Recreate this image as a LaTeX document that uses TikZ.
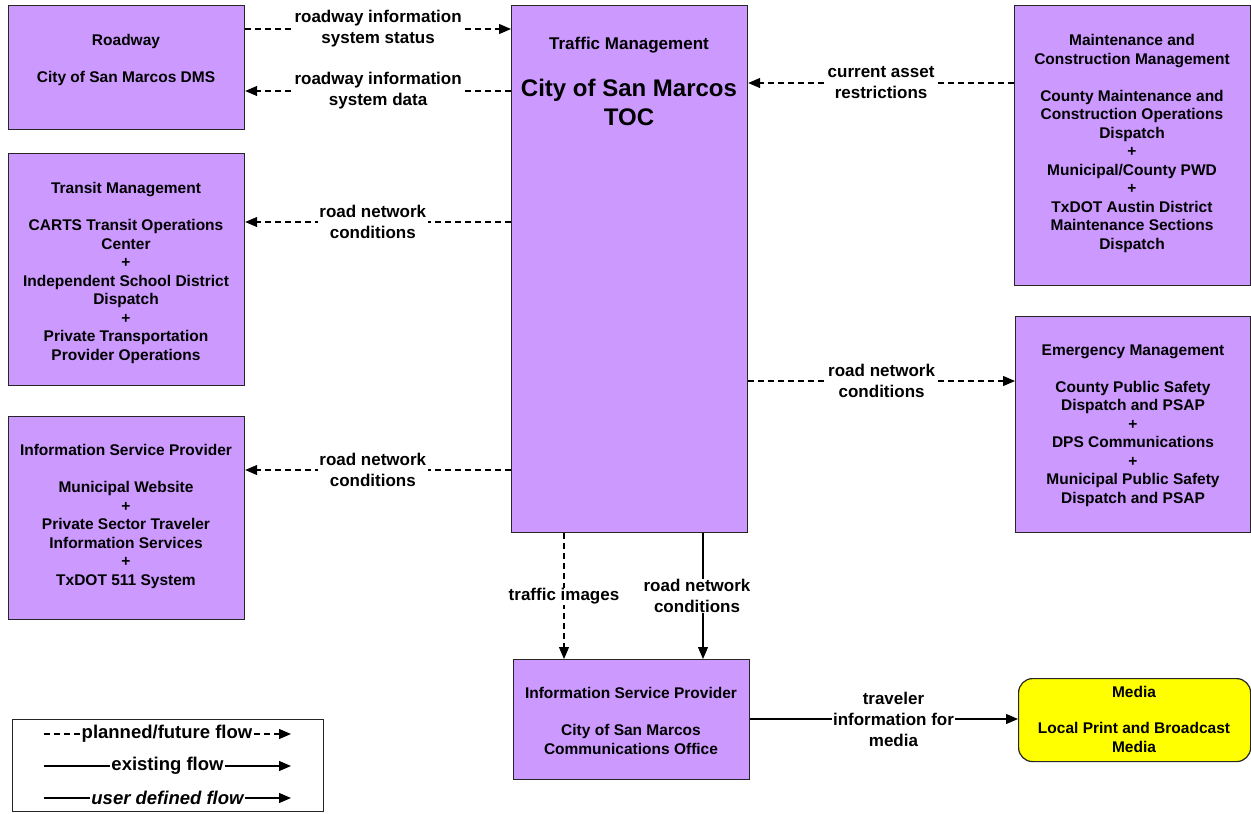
\documentclass[tikz,border=0pt]{standalone}
\usepackage{fontspec}
\setmainfont{Liberation Sans}
\usetikzlibrary{arrows.meta}
\definecolor{syspurple}{HTML}{CC99FF}
\definecolor{mediayellow}{HTML}{FFFF00}
\begin{document}
\begin{tikzpicture}[x=1pt,y=-1pt,
  sysbox/.style={draw=black!85, line width=1.2pt, fill=syspurple, anchor=north west, inner sep=0pt},
  mediabox/.style={draw=black!85, line width=1.2pt, fill=mediayellow, anchor=north west, inner sep=0pt, rounded corners=14pt},
  boxtext/.style={anchor=north, align=center, inner sep=0pt,
    font=\fontsize{15.5}{18.5}\selectfont\bfseries},
  flowlabel/.style={fill=white, align=center, inner sep=1.5pt,
    font=\fontsize{17}{21}\selectfont\bfseries},
  tip/.style={-{Triangle[length=12pt,width=10pt]}},
  planned/.style={tip, line width=1.2pt, dash pattern=on 6pt off 4pt},
  existing/.style={tip, line width=1.2pt},
  legendtext/.style={fill=white, inner sep=1pt, font=\fontsize{18.5}{21}\selectfont\bfseries}
]
\useasboundingbox (0,0) rectangle (1251,814);

% ---- system boxes ----
\node[sysbox, minimum width=236pt, minimum height=124pt] (road) at (8,5) {};
\node[sysbox, minimum width=236pt, minimum height=527pt] (tm) at (511,5) {};
\node[sysbox, minimum width=236pt, minimum height=280pt] (mcm) at (1014,5) {};
\node[sysbox, minimum width=236pt, minimum height=232pt] (transit) at (8,153) {};
\node[sysbox, minimum width=235pt, minimum height=216pt] (em) at (1015,316) {};
\node[sysbox, minimum width=236pt, minimum height=203pt] (ispw) at (8,416) {};
\node[sysbox, minimum width=236pt, minimum height=120pt] (ispc) at (513,659) {};
\node[mediabox, minimum width=232pt, minimum height=83pt] (media) at (1018,678) {};

% ---- box texts ----
\node[boxtext] at (126,34.5) {Roadway\\[18.5pt]City of San Marcos DMS};
\node[boxtext, font=\fontsize{17}{20}\selectfont\bfseries] at (629,37) {Traffic Management};
\node[boxtext, font=\fontsize{24}{29}\selectfont\bfseries] at (629,79) {City of San Marcos\\TOC};
\node[boxtext] at (1132,34.5) {Maintenance and\\Construction Management\\[18.5pt]County Maintenance and\\Construction Operations\\Dispatch\\+\\Municipal/County PWD\\+\\TxDOT Austin District\\Maintenance Sections\\Dispatch};
\node[boxtext] at (126,182.5) {Transit Management\\[18.5pt]CARTS Transit Operations\\Center\\+\\Independent School District\\Dispatch\\+\\Private Transportation\\Provider Operations};
\node[boxtext] at (1133,344.5) {Emergency Management\\[18.5pt]County Public Safety\\Dispatch and PSAP\\+\\DPS Communications\\+\\Municipal Public Safety\\Dispatch and PSAP};
\node[boxtext] at (126,444.5) {Information Service Provider\\[18.5pt]Municipal Website\\+\\Private Sector Traveler\\Information Services\\+\\TxDOT 511 System};
\node[boxtext] at (631,687.5) {Information Service Provider\\[18.5pt]City of San Marcos\\Communications Office};
\node[boxtext] at (1134,686.5) {Media\\[17.5pt]Local Print and Broadcast\\Media};

% ---- flows ----
\draw[planned] (road.east |- 0,29) -- node[flowlabel] {roadway information\\system status} (tm.west |- 0,29);
\draw[planned] (tm.west |- 0,91) -- node[flowlabel] {roadway information\\system data} (road.east |- 0,91);
\draw[planned] (mcm.west |- 0,83) -- node[flowlabel] {current asset\\restrictions} (tm.east |- 0,83);
\draw[planned] (tm.west |- 0,222) -- node[flowlabel, pos=0.52] {road network\\conditions} (transit.east |- 0,222);
\draw[planned] (tm.east |- 0,381) -- node[flowlabel] {road network\\conditions} (em.west |- 0,381);
\draw[planned] (tm.west |- 0,470) -- node[flowlabel, pos=0.52] {road network\\conditions} (ispw.east |- 0,470);
\draw[planned] (tm.south -| 564,0) -- node[flowlabel, inner sep=0.5pt] {traffic images} (ispc.north -| 564,0);
\draw[existing] (tm.south -| 703,0) -- node[flowlabel, xshift=-6pt, inner sep=0.5pt] {road network\\conditions} (ispc.north -| 703,0);
\draw[existing] (ispc.east |- 0,719) -- node[flowlabel, pos=0.535] {traveler\\information for\\media} (media.west |- 0,719);

% ---- legend ----
\node[draw=black!85, line width=1pt, anchor=north west, minimum width=311pt, minimum height=92pt, inner sep=0pt] (legend) at (12,719) {};
\coordinate (l1a) at (44,734);  \coordinate (l1b) at (291,734);
\coordinate (l2a) at (44,766);  \coordinate (l2b) at (291,766);
\coordinate (l3a) at (44,798);  \coordinate (l3b) at (291,798);
\draw[planned] (l1a) -- node[legendtext, xshift=-0.5pt] {planned/future flow} (l1b);
\draw[existing] (l2a) -- node[legendtext] {existing flow} (l2b);
\draw[existing] (l3a) -- node[legendtext, font=\fontsize{18.5}{21}\selectfont\bfseries\itshape] {user defined flow} (l3b);
\end{tikzpicture}
\end{document}
